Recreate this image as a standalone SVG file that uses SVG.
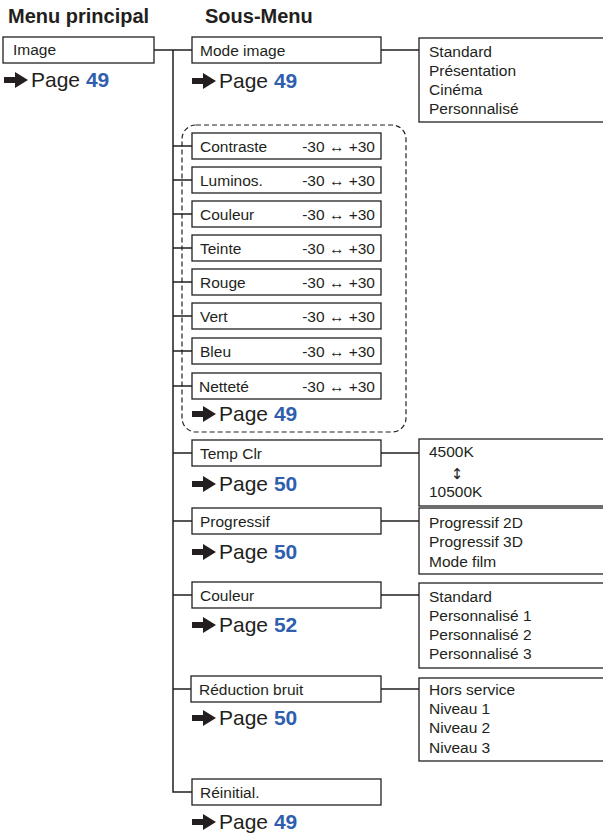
<svg xmlns="http://www.w3.org/2000/svg" width="603" height="839" viewBox="0 0 603 839">
<style>
text{font-family:"Liberation Sans",Arial,Helvetica,sans-serif;fill:#231f20}
.t{font-size:20px;font-weight:bold}
.b{font-size:15.5px}
.box{fill:#fff;stroke:#231f20;stroke-width:1.3}
.ln{stroke:#231f20;stroke-width:1.5;fill:none}
.pg{font-size:21px}
.num{font-weight:bold;fill:#2f5fae}
.r{text-anchor:end}
</style>
<defs>
<path id="arr" d="M0,-3 H11 V-8 L24,0 L11,8 V3 H0 Z" fill="#231f20"/>
</defs>
<text class="t" x="8" y="23">Menu principal</text>
<text class="t" x="205" y="23">Sous-Menu</text>

<g id="connectors">
<path class="ln" d="M154,50 H192 M173,50 V792 H192"/>
<path class="ln" d="M173,146 H192 M173,180 H192 M173,214 H192 M173,248 H192 M173,282 H192 M173,316 H192 M173,351 H192 M173,386 H192"/>
<path class="ln" d="M173,453 H192 M173,521 H192 M173,595 H192 M173,689 H192"/>
<path class="ln" d="M381,50 H419 M381,453 H419 M381,521 H419 M381,595 H419 M381,689 H419"/>
</g>

<g id="main-image">
<rect class="box" x="3" y="37" width="151" height="26"/>
<text class="b" x="13" y="55">Image</text>
<use href="#arr" x="4" y="80"/>
<text class="pg" x="31" y="87">Page <tspan class="num">49</tspan></text>
</g>

<g id="mode-image">
<rect class="box" x="192" y="37" width="189" height="26"/>
<text class="b" x="200" y="56">Mode image</text>
<use href="#arr" x="192" y="81"/>
<text class="pg" x="219" y="88">Page <tspan class="num">49</tspan></text>
</g>
<g id="mode-image-options">
<rect class="box" x="419" y="38" width="200" height="84"/>
<text class="b" x="429" y="57">Standard</text>
<text class="b" x="429" y="76">Présentation</text>
<text class="b" x="429" y="95">Cinéma</text>
<text class="b" x="429" y="114">Personnalisé</text>
</g>

<g id="adjust-group">
<rect x="182" y="125" width="224" height="307" rx="14" fill="none" stroke="#231f20" stroke-width="1.2" stroke-dasharray="5,3"/>
<use href="#arr" x="192" y="414"/>
<text class="pg" x="219" y="421">Page <tspan class="num">49</tspan></text>
</g>
<g id="contraste"><rect class="box" x="192" y="133" width="189" height="26"/><text class="b" x="200" y="152">Contraste</text><text class="b r" x="375" y="152">-30 ↔ +30</text></g>
<g id="luminos"><rect class="box" x="192" y="167" width="189" height="26"/><text class="b" x="200" y="186">Luminos.</text><text class="b r" x="375" y="186">-30 ↔ +30</text></g>
<g id="couleur-adj"><rect class="box" x="192" y="201" width="189" height="26"/><text class="b" x="200" y="220">Couleur</text><text class="b r" x="375" y="220">-30 ↔ +30</text></g>
<g id="teinte"><rect class="box" x="192" y="235" width="189" height="26"/><text class="b" x="200" y="254">Teinte</text><text class="b r" x="375" y="254">-30 ↔ +30</text></g>
<g id="rouge"><rect class="box" x="192" y="269" width="189" height="26"/><text class="b" x="200" y="288">Rouge</text><text class="b r" x="375" y="288">-30 ↔ +30</text></g>
<g id="vert"><rect class="box" x="192" y="303" width="189" height="26"/><text class="b" x="200" y="322">Vert</text><text class="b r" x="375" y="322">-30 ↔ +30</text></g>
<g id="bleu"><rect class="box" x="192" y="338" width="189" height="26"/><text class="b" x="200" y="357">Bleu</text><text class="b r" x="375" y="357">-30 ↔ +30</text></g>
<g id="nettete"><rect class="box" x="192" y="373" width="189" height="26"/><text class="b" x="199" y="392">Netteté</text><text class="b r" x="375" y="392">-30 ↔ +30</text></g>

<g id="temp-clr">
<rect class="box" x="192" y="440" width="189" height="26"/>
<text class="b" x="200" y="459">Temp Clr</text>
<use href="#arr" x="192" y="484"/>
<text class="pg" x="219" y="491">Page <tspan class="num">50</tspan></text>
</g>
<g id="temp-clr-options">
<rect class="box" x="419" y="439" width="200" height="67"/>
<text class="b" x="429" y="457">4500K</text>
<text x="457" y="479" text-anchor="middle" style="font-family:'DejaVu Sans',sans-serif;font-size:15px">↕</text>
<text class="b" x="429" y="497">10500K</text>
</g>

<g id="progressif">
<rect class="box" x="192" y="508" width="189" height="26"/>
<text class="b" x="200" y="527">Progressif</text>
<use href="#arr" x="192" y="552"/>
<text class="pg" x="219" y="559">Page <tspan class="num">50</tspan></text>
</g>
<g id="progressif-options">
<rect class="box" x="419" y="508" width="200" height="66"/>
<text class="b" x="429" y="528">Progressif 2D</text>
<text class="b" x="429" y="547">Progressif 3D</text>
<text class="b" x="429" y="567">Mode film</text>
</g>

<g id="couleur">
<rect class="box" x="192" y="582" width="189" height="26"/>
<text class="b" x="200" y="601">Couleur</text>
<use href="#arr" x="192" y="625"/>
<text class="pg" x="219" y="632">Page <tspan class="num">52</tspan></text>
</g>
<g id="couleur-options">
<rect class="box" x="419" y="583" width="200" height="85"/>
<text class="b" x="429" y="602">Standard</text>
<text class="b" x="429" y="621">Personnalisé 1</text>
<text class="b" x="429" y="640">Personnalisé 2</text>
<text class="b" x="429" y="659">Personnalisé 3</text>
</g>

<g id="reduction-bruit">
<rect class="box" x="191" y="676" width="190" height="26"/>
<text class="b" x="199" y="695">Réduction bruit</text>
<use href="#arr" x="192" y="718"/>
<text class="pg" x="219" y="725">Page <tspan class="num">50</tspan></text>
</g>
<g id="reduction-options">
<rect class="box" x="419" y="678" width="200" height="83"/>
<text class="b" x="429" y="695">Hors service</text>
<text class="b" x="429" y="714">Niveau 1</text>
<text class="b" x="429" y="733">Niveau 2</text>
<text class="b" x="429" y="753">Niveau 3</text>
</g>

<g id="reinitial">
<rect class="box" x="192" y="779" width="189" height="26"/>
<text class="b" x="200" y="798">Réinitial.</text>
<use href="#arr" x="192" y="822"/>
<text class="pg" x="219" y="829">Page <tspan class="num">49</tspan></text>
</g>
</svg>
